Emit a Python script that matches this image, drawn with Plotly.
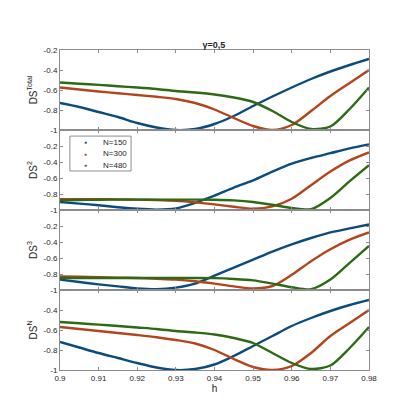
"""DS curves versus h for three system sizes (gamma = 0.5)."""

import plotly.graph_objects as go
from plotly.subplots import make_subplots

h = [0.900, 0.905, 0.910, 0.915, 0.920, 0.925, 0.930, 0.935, 0.940,
     0.945, 0.950, 0.955, 0.960, 0.965, 0.970, 0.975, 0.980]

sizes = ["N=150", "N=300", "N=480"]
colors = ["#0b4c7c", "#b2451b", "#2c6a14"]

# DS^Total
total_150 = [-0.73, -0.77, -0.82, -0.87, -0.93, -0.975, -1.0, -0.99, -0.94,
             -0.86, -0.76, -0.665, -0.575, -0.49, -0.415, -0.35, -0.29]
total_300 = [-0.575, -0.595, -0.615, -0.632, -0.65, -0.668, -0.69, -0.73, -0.795,
             -0.88, -0.96, -1.0, -0.95, -0.81, -0.66, -0.53, -0.40]
total_480 = [-0.525, -0.537, -0.549, -0.562, -0.575, -0.59, -0.61, -0.625, -0.645,
             -0.675, -0.72, -0.81, -0.92, -0.99, -0.965, -0.79, -0.575]

# DS^2
ds2_150 = [-0.90, -0.92, -0.94, -0.965, -0.985, -0.995, -0.98, -0.91, -0.82,
           -0.72, -0.63, -0.52, -0.42, -0.35, -0.29, -0.23, -0.18]
ds2_300 = [-0.865, -0.865, -0.865, -0.867, -0.87, -0.875, -0.885, -0.905, -0.93,
           -0.96, -0.985, -0.955, -0.86, -0.69, -0.52, -0.38, -0.28]
ds2_480 = [-0.88, -0.875, -0.872, -0.87, -0.87, -0.87, -0.87, -0.87, -0.872,
           -0.88, -0.9, -0.935, -0.975, -0.99, -0.85, -0.64, -0.44]

# DS^3
ds3_150 = [-0.87, -0.90, -0.93, -0.955, -0.98, -0.99, -0.97, -0.92, -0.82,
           -0.72, -0.62, -0.52, -0.43, -0.35, -0.28, -0.23, -0.18]
ds3_300 = [-0.83, -0.835, -0.84, -0.845, -0.85, -0.86, -0.87, -0.89, -0.92,
           -0.955, -0.98, -0.95, -0.81, -0.64, -0.49, -0.37, -0.28]
ds3_480 = [-0.85, -0.85, -0.85, -0.85, -0.85, -0.85, -0.85, -0.85, -0.852,
           -0.862, -0.88, -0.92, -0.965, -0.99, -0.87, -0.66, -0.45]

# DS^N
dsn_150 = [-0.72, -0.775, -0.83, -0.88, -0.93, -0.975, -1.0, -0.99, -0.945,
           -0.86, -0.76, -0.66, -0.56, -0.48, -0.41, -0.35, -0.30]
dsn_300 = [-0.57, -0.59, -0.61, -0.63, -0.65, -0.672, -0.70, -0.735, -0.80,
           -0.89, -0.97, -1.0, -0.96, -0.83, -0.66, -0.53, -0.40]
dsn_480 = [-0.52, -0.533, -0.546, -0.56, -0.575, -0.59, -0.61, -0.625, -0.645,
           -0.68, -0.73, -0.83, -0.93, -0.99, -0.955, -0.78, -0.57]

panels = [
    ("DS<sup>Total</sup>", [total_150, total_300, total_480], [-1, -0.2], [-1, -0.8, -0.6, -0.4, -0.2]),
    ("DS<sup>2</sup>", [ds2_150, ds2_300, ds2_480], [-1, 0], [-1, -0.8, -0.6, -0.4, -0.2]),
    ("DS<sup>3</sup>", [ds3_150, ds3_300, ds3_480], [-1, 0], [-1, -0.8, -0.6, -0.4, -0.2]),
    ("DS<sup>N</sup>", [dsn_150, dsn_300, dsn_480], [-1, -0.2], [-1, -0.8, -0.6, -0.4]),
]

x_ticks = [0.90, 0.91, 0.92, 0.93, 0.94, 0.95, 0.96, 0.97, 0.98]
x_labels = ["0.9", "0.91", "0.92", "0.93", "0.94", "0.95", "0.96", "0.97", "0.98"]

axis_color = "#8c8c8c"
text_color = "#262626"
font_family = "Liberation Sans, Arial, sans-serif"

fig = make_subplots(rows=4, cols=1, shared_xaxes=True, vertical_spacing=0)

for row, (label, series, yrange, yticks) in enumerate(panels, start=1):
    for values, color in zip(series, colors):
        fig.add_trace(
            go.Scatter(x=h, y=values, mode="lines", line=dict(color=color, width=2.4, shape="spline", smoothing=0.8),
                       showlegend=False, hoverinfo="skip"),
            row=row, col=1,
        )
    fig.update_yaxes(
        range=yrange, tickvals=yticks, ticktext=[f"{v:g}" for v in yticks],
        title=dict(text=label, font=dict(size=10, color=text_color), standoff=4),
        row=row, col=1,
    )

fig.update_xaxes(
    range=[0.9, 0.98], tickvals=x_ticks, ticktext=x_labels,
    showline=True, linecolor=axis_color, linewidth=1, mirror="ticks",
    ticks="inside", ticklen=3, tickcolor=axis_color, showgrid=False, zeroline=False,
    tickfont=dict(size=8, color=text_color),
)
fig.update_xaxes(title=dict(text="h", font=dict(size=10, color=text_color), standoff=2), row=4, col=1)
fig.update_yaxes(
    showline=True, linecolor=axis_color, linewidth=1, mirror="ticks",
    ticks="inside", ticklen=3, tickcolor=axis_color, showgrid=False, zeroline=False,
    tickfont=dict(size=8, color=text_color),
)

# compact legend box inside the DS^2 panel, dots as in the source
fig.add_shape(type="rect", xref="paper", yref="paper", x0=0.032, x1=0.230, y0=0.622, y1=0.731,
              line=dict(color=axis_color, width=1), fillcolor="white", layer="above")
for i, (name, color) in enumerate(zip(sizes, colors)):
    y = 0.7115 - i * 0.036
    fig.add_annotation(xref="paper", yref="paper", x=0.084, y=y, text="\u25cf", showarrow=False,
                       xanchor="center", yanchor="middle", font=dict(size=5, color=color))
    fig.add_annotation(xref="paper", yref="paper", x=0.133, y=y, text=name, showarrow=False,
                       xanchor="left", yanchor="middle", font=dict(size=8, color=text_color))

fig.update_layout(
    width=399,
    height=406,
    margin=dict(l=52, r=38, t=42, b=44),
    paper_bgcolor="white",
    plot_bgcolor="white",
    font=dict(family=font_family, color=text_color),
    title=dict(text="<b>\u03b3=0,5</b>", x=0.516, xanchor="center", y=0.91, yanchor="middle",
               font=dict(size=9, color=text_color)),
    showlegend=False,
)

fig.write_html("out.html")
